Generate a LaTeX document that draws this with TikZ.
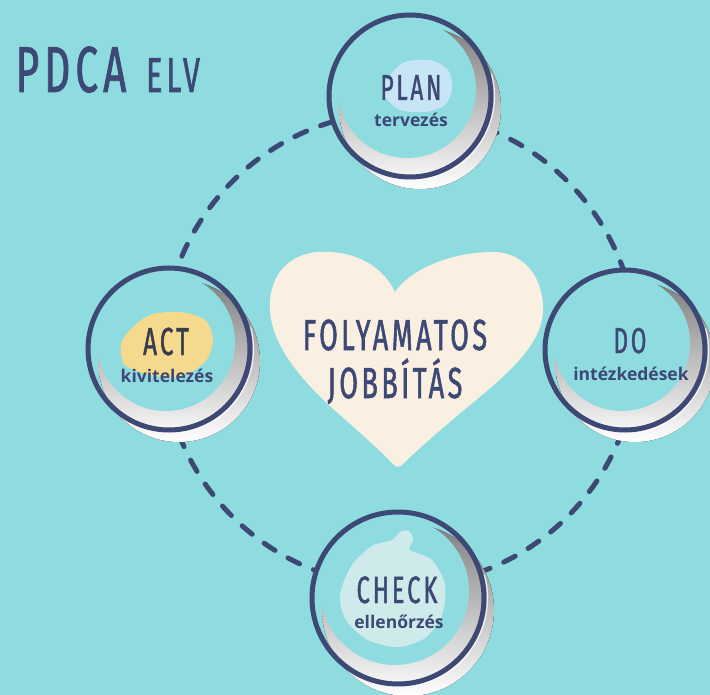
\documentclass[tikz,border=0pt]{standalone}
\usepackage{fontspec}
\setmainfont{Open Sans}
\newfontfamily\hand[FakeStretch=0.62,LetterSpace=8,FakeBold=1.2]{Fira Sans}
\usetikzlibrary{calc}
\definecolor{bg}{HTML}{8FDCE0}
\definecolor{navy}{HTML}{3E4874}
\definecolor{ink}{HTML}{383C4E}
\definecolor{shade}{HTML}{D8D8E6}
\definecolor{cream}{HTML}{F9F0E2}
\definecolor{sun}{HTML}{F5D98C}
\definecolor{sky}{HTML}{C7E5F4}
\definecolor{mint}{HTML}{CFEAEA}
\newcommand\pdcabase[2]{% name, radius
  \fill[bg] (#1c) circle[radius=#2];
  \fill[shade] ($(#1c)+(10,12)$) circle[radius=#2];
  \fill[bg] ($(#1c)+(-3,-7)$) circle[radius=#2-12];
  \draw[white, line width=1.2pt, opacity=.8] ($(#1c)+(-15:#2+3.5)$) arc[start angle=-15, end angle=75, radius=#2+3.5];
}
\begin{document}
\begin{tikzpicture}[x=1pt,y=-1pt,
  ringnode/.style={circle, draw=navy, line width=5pt, inner sep=0pt},
  dashring/.style={draw=navy, line width=5pt, line cap=round, dash pattern=on 13pt off 15pt},
  big/.style={text=navy, anchor=base, inner sep=0pt, font=\hand\fontsize{#1}{#1}\selectfont},
  sub/.style={text=navy, anchor=base, inner sep=0pt, font=\bfseries\fontsize{17.5}{18}\selectfont}]
\fill[bg] (0,0) rectangle (710,695);
\useasboundingbox (0,0) rectangle (710,695);

% title
\node[big=65] (pdca) at (71,92) {PDCA};
\node[big=49] (elv) at (173,92) {ELV};

% dashed ring
\coordinate (ringc) at (400,349);
\draw[dashring] (ringc) circle[radius=237];

% heart
\fill[cream] (395,292) .. controls (380,262) and (350,250) .. (317,252)
  .. controls (285,255) and (268,280) .. (270,310)
  .. controls (272,345) and (300,380) .. (340,415)
  .. controls (365,437) and (385,455) .. (392,463)
  .. controls (396,468) and (400,468) .. (404,463)
  .. controls (415,452) and (440,430) .. (470,405)
  .. controls (515,368) and (545,340) .. (543,305)
  .. controls (541,272) and (520,252) .. (493,252)
  .. controls (450,252) and (410,270) .. (395,292) -- cycle;
\node[big=43.5] (folyt) at (395,350) {FOLYAMATOS};
\node[big=43.5] (jobb) at (395,398) {JOBBÍTÁS};

% circle centres
\coordinate (planc) at (410,96);
\coordinate (actc) at (169,349);
\coordinate (doc) at (625,350);
\coordinate (checkc) at (398,598);

% PLAN
\pdcabase{plan}{81}
\fill[sky] plot[smooth cycle] coordinates {(390,75) (405,62) (430,60) (448,70) (452,88) (445,105) (425,112) (400,110) (386,98) (383,85)};
\node[ringnode, minimum size=162pt] (plan) at (planc) {};
\node[big=36] (planT) at (411,100) {PLAN};
\node[sub] (planS) at (411,127) {tervezés};

% ACT
\pdcabase{act}{81}
\fill[sun] plot[smooth cycle] coordinates {(130,330) (150,315) (180,312) (205,320) (213,340) (205,362) (180,377) (150,375) (125,365) (121,345)};
\node[ringnode, minimum size=162pt] (act) at (actc) {};
\node[big=39, text=ink] (actT) at (166,355) {ACT};
\node[sub] (actS) at (167,382) {kivitelezés};

% DO
\pdcabase{do}{80}
\node[ringnode, minimum size=160pt] (do) at (doc) {};
\node[big=36] (doT) at (630,353) {DO};
\node[sub] (doS) at (631,380) {intézkedések};

% CHECK
\pdcabase{check}{86}
\fill[mint] plot[smooth cycle] coordinates {(352,565) (372,546) (392,540) (400,532) (409,531) (413,540) (410,550) (432,560) (445,585) (442,615) (425,638) (398,647) (368,640) (346,620) (340,595)};
\node[ringnode, minimum size=172pt] (check) at (checkc) {};
\node[big=38] (checkT) at (397,603) {CHECK};
\node[sub] (checkS) at (399,628) {ellenőrzés};
\end{tikzpicture}
\end{document}
